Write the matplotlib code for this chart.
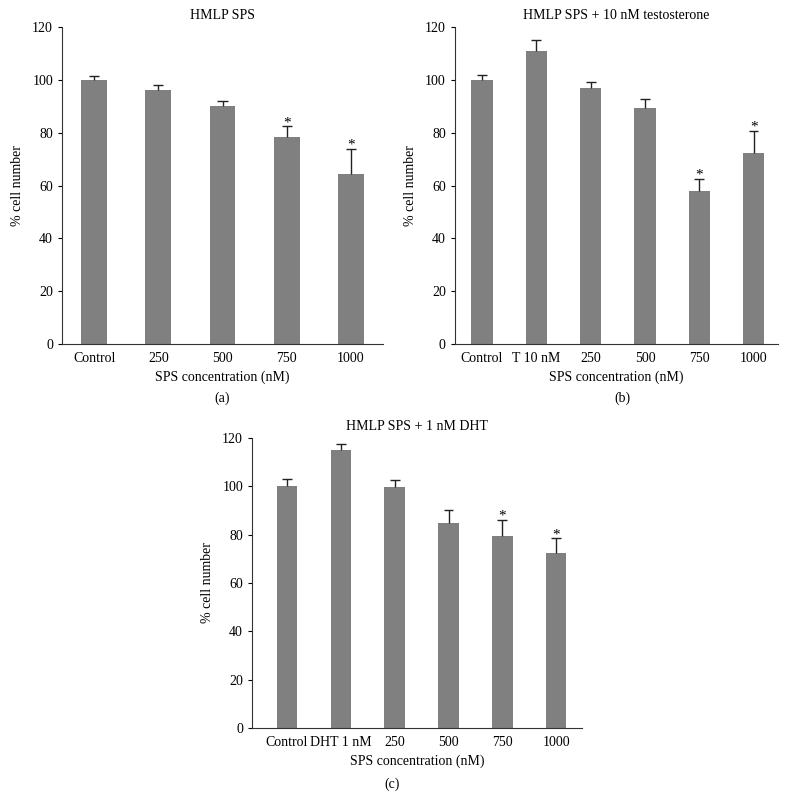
import matplotlib
matplotlib.use('Agg')
import matplotlib.pyplot as plt
import numpy as np

plt.rcParams['font.family'] = ['Liberation Serif', 'DejaVu Serif']
plt.rcParams['font.size'] = 10

# Panel (a): HMLP SPS
labels_a = ['Control', '250', '500', '750', '1000']
values_a = [100.0, 96.2, 90.2, 78.4, 64.3]
errors_a = [1.3, 1.7, 1.7, 4.0, 9.7]
star_a = [False, False, False, True, True]

# Panel (b): HMLP SPS + 10 nM testosterone
labels_b = ['Control', 'T 10 nM', '250', '500', '750', '1000']
values_b = [100.0, 111.0, 96.8, 89.3, 57.8, 72.2]
errors_b = [2.0, 4.0, 2.3, 3.6, 4.8, 8.6]
star_b = [False, False, False, False, True, True]

# Panel (c): HMLP SPS + 1 nM DHT
labels_c = ['Control', 'DHT 1 nM', '250', '500', '750', '1000']
values_c = [100.0, 115.0, 99.6, 85.0, 79.4, 72.3]
errors_c = [3.1, 2.4, 2.9, 5.2, 6.6, 6.2]
star_c = [False, False, False, False, True, True]

bar_color = '#808080'


def draw_panel(ax, labels, values, errors, stars, title, width, xlim, cap):
    x = np.arange(len(labels))
    values = np.array(values)
    errors = np.array(errors)
    ax.bar(x, values, width=width, color=bar_color)
    # upper error bars only
    ax.vlines(x, values, values + errors, color='#222222', lw=1.0)
    ax.hlines(values + errors, x - cap, x + cap, color='#222222', lw=1.0)
    for xi, v, e, s in zip(x, values, errors, stars):
        if s:
            ax.annotate('*', (xi, v + e), xytext=(0, -2), textcoords='offset points',
                        ha='center', va='bottom', fontsize=11)
    ax.set_xticks(x)
    ax.set_xticklabels(labels)
    ax.tick_params(axis='x', length=0, pad=6)
    ax.tick_params(axis='y', direction='out', length=3, width=0.8)
    ax.set_ylim(0, 120)
    ax.set_yticks(np.arange(0, 121, 20))
    ax.set_xlim(*xlim)
    ax.spines['top'].set_visible(False)
    ax.spines['right'].set_visible(False)
    ax.spines['left'].set_color('#333333')
    ax.spines['bottom'].set_color('#333333')
    ax.set_title(title, fontsize=10, pad=6)
    ax.set_xlabel('SPS concentration (nM)', labelpad=4)
    ax.set_ylabel('% cell number', labelpad=6)


fig = plt.figure(figsize=(7.91, 8.09), dpi=100)

ax_a = fig.add_axes([0.0784, 0.5748, 0.4058, 0.3918])
draw_panel(ax_a, labels_a, values_a, errors_a, star_a, 'HMLP SPS', 0.4, (-0.5, 4.5), 0.08)

ax_b = fig.add_axes([0.575, 0.5748, 0.4086, 0.3918])
draw_panel(ax_b, labels_b, values_b, errors_b, star_b,
           'HMLP SPS + 10 nM testosterone', 0.39, (-0.5, 5.45), 0.09)

ax_c = fig.add_axes([0.3186, 0.1001, 0.4172, 0.3585])
draw_panel(ax_c, labels_c, values_c, errors_c, star_c,
           'HMLP SPS + 1 nM DHT', 0.38, (-0.65, 5.48), 0.09)

fig.text(222 / 791, 1 - 398 / 809, '(a)', ha='center', va='center', fontsize=10)
fig.text(622 / 791, 1 - 398 / 809, '(b)', ha='center', va='center', fontsize=10)
fig.text(392 / 791, 1 - 784 / 809, '(c)', ha='center', va='center', fontsize=10)

fig.savefig('out.png', dpi=100)
